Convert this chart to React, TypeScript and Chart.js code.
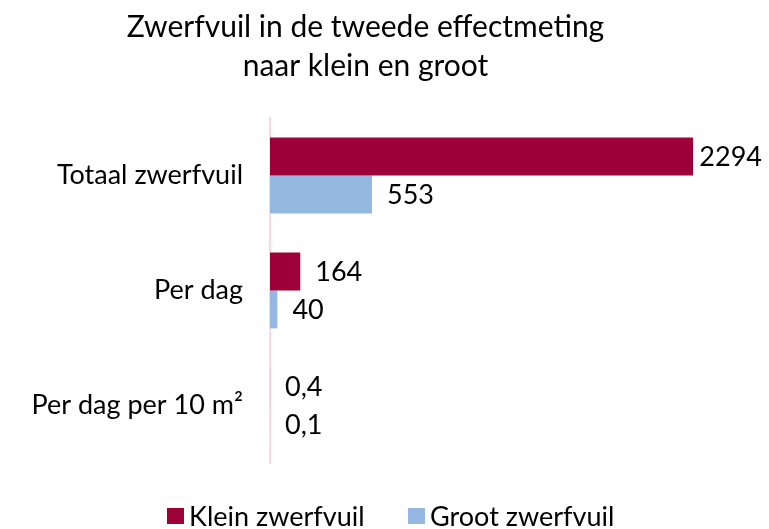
import React, { useEffect, useRef } from "react";
import { Chart, registerables } from "chart.js";

Chart.register(...registerables);

const categories = ["Totaal zwerfvuil", "Per dag", "Per dag per 10 m²"];
const kleinValues = [2294, 164, 0.4];
const grootValues = [553, 40, 0.1];
const seriesNames = ["Klein zwerfvuil", "Groot zwerfvuil"];
const seriesColors = ["#9E0038", "#95B8E3"];
const titleLines = ["Zwerfvuil in de tweede effectmeting", "naar klein en groot"];

const FONT = "Lato";

const labelPlugin = {
  id: "barLabels",
  afterDatasetsDraw(chart: any) {
    const ctx = chart.ctx;
    ctx.save();
    ctx.font = `27px ${FONT}`;
    ctx.fillStyle = "#000000";
    ctx.textBaseline = "middle";
    ctx.textAlign = "left";
    chart.data.datasets.forEach((ds: any, di: number) => {
      const meta = chart.getDatasetMeta(di);
      meta.data.forEach((bar: any, i: number) => {
        const v = ds.data[i];
        const txt = String(v).replace(".", ",");
        const w = ctx.measureText(txt).width;
        let x = bar.x + 15;
        if (x + w > chart.width - 7) x = chart.width - 7 - w;
        ctx.fillText(txt, x, bar.y + 1);
      });
    });
    ctx.restore();
  },
};

const legendPlugin = {
  id: "customLegend",
  afterDraw(chart: any) {
    const ctx = chart.ctx;
    ctx.save();
    ctx.font = `27px ${FONT}`;
    ctx.textBaseline = "middle";
    ctx.textAlign = "left";
    const starts = [167, 408];
    const cy = chart.height - 13;
    chart.data.datasets.forEach((ds: any, i: number) => {
      const x = starts[i];
      ctx.fillStyle = ds.backgroundColor;
      ctx.fillRect(x, cy - 8, 17, 16);
      ctx.fillStyle = "#000000";
      ctx.fillText(ds.label, x + 22, cy + 1);
    });
    ctx.restore();
  },
};

export default function App() {
  const ref = useRef<HTMLCanvasElement | null>(null);
  useEffect(() => {
    document.body.style.margin = "0";
    const chart = new Chart(ref.current!, {
      type: "bar",
      data: {
        labels: categories,
        datasets: [
          { label: seriesNames[0], data: kleinValues, backgroundColor: seriesColors[0] },
          { label: seriesNames[1], data: grootValues, backgroundColor: seriesColors[1] },
        ],
      },
      options: {
        indexAxis: "y",
        animation: false,
        responsive: false,
        layout: { padding: { right: 38, left: 0, top: 4, bottom: 66 } },
        datasets: { bar: { categoryPercentage: 0.659, barPercentage: 1 } },
        scales: {
          x: { display: false, min: 0, max: 2500 },
          y: {
            grid: { display: false },
            border: { display: true, color: "#FFD6E2", width: 2 },
            ticks: { color: "#000000", font: { family: FONT, size: 27 }, padding: 19 },
            afterFit: (s: any) => { s.width = 270; },
          },
        },
        plugins: {
          title: {
            display: true,
            text: titleLines,
            color: "#000000",
            font: { family: FONT, size: 30, weight: "normal", lineHeight: 1.3 },
            padding: { top: 4, bottom: 32 },
          },
          legend: { display: false },
          tooltip: { enabled: false },
        },
      },
      plugins: [labelPlugin, legendPlugin],
    } as any);
    return () => chart.destroy();
  }, []);
  return (
    <div style={{ position: "absolute", left: 0, top: 0, width: 769, height: 529 }}>
      <canvas ref={ref} width={769} height={529} />
    </div>
  );
}
